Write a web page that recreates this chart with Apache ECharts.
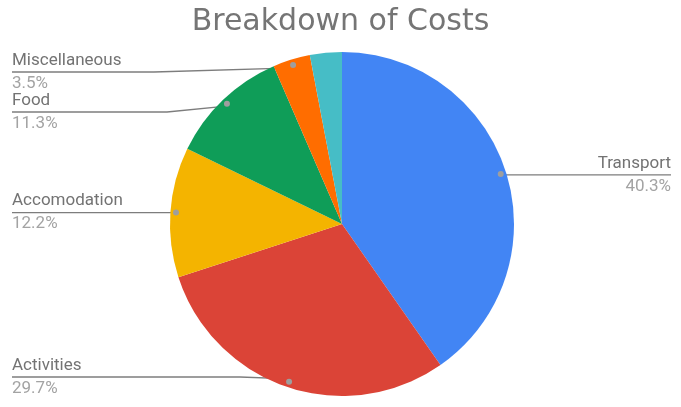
<!DOCTYPE html>
<html>
<head>
<meta charset="utf-8">
<script src="https://cdn.jsdelivr.net/npm/echarts@6/dist/echarts.min.js"></script>
<style>
html,body{margin:0;padding:0;background:#fff;}
#chart{width:681px;height:407px;}
</style>
</head>
<body>
<div id="chart"></div>
<script>
const titleText = 'Breakdown of Costs';
const categories = ['Transport', 'Activities', 'Accomodation', 'Food', 'Miscellaneous', 'Other'];
const values = [40.3, 29.7, 12.2, 11.3, 3.5, 3.0];
const colors = ['#4285f4', '#db4437', '#f4b400', '#0f9d58', '#ff6d00', '#46bdc6'];
const showLabel = [true, true, true, true, true, false];

// layout constants
const W = 681, H = 407;
const CX = 342, CY = 224, R = 172;
const DOT_FRAC = 0.95;
const LEFT_X = 12, RIGHT_X = 671;
const MIN_GAP = 40, MIN_LINE_Y = 72, MAX_LINE_Y = 377;

// label anchor positions (dot along each slice's mid-angle)
const total = values.reduce((a, b) => a + b, 0);
const anchors = [];
let acc = 0;
values.forEach((v, i) => {
  const mid = (acc + v / 2) / total * Math.PI * 2;
  acc += v;
  const dx = Math.sin(mid), dy = -Math.cos(mid);
  anchors.push({ x: CX + dx * R * DOT_FRAC, y: CY + dy * R * DOT_FRAC, right: dx >= 0 });
});
const lineY = anchors.map(a => Math.max(a.y, MIN_LINE_Y));
['left', 'right'].forEach(side => {
  const idx = anchors.map((a, i) => i).filter(i => showLabel[i] && (anchors[i].right === (side === 'right')));
  idx.sort((a, b) => anchors[a].y - anchors[b].y);
  for (let k = 1; k < idx.length; k++) {
    const prev = lineY[idx[k - 1]];
    if (lineY[idx[k]] < prev + MIN_GAP) lineY[idx[k]] = prev + MIN_GAP;
  }
  idx.forEach(i => { if (lineY[i] > MAX_LINE_Y) lineY[i] = MAX_LINE_Y; });
});

const pieData = categories.map((c, i) => ({
  name: c, value: values[i],
  itemStyle: { color: colors[i] },
  label: { show: showLabel[i] },
  labelLine: { show: showLabel[i] }
}));
const dotData = categories.map((c, i) => ({
  name: c, value: values[i],
  label: { show: showLabel[i] }
}));

const chart = echarts.init(document.getElementById('chart'), null, { renderer: 'canvas' });
chart.setOption({
  backgroundColor: '#fff',
  animation: false,
  title: {
    text: titleText, left: 'center', top: 2,
    textStyle: { fontFamily: 'DejaVu Sans', fontSize: 30, fontWeight: 'normal', color: '#757575' }
  },
  series: [
    {
      type: 'pie',
      center: [CX, CY],
      radius: [0, R],
      startAngle: 90,
      clockwise: true,
      percentPrecision: 1,
      avoidLabelOverlap: false,
      data: pieData,
      itemStyle: { borderWidth: 0 },
      emphasis: { disabled: true },
      label: {
        position: 'outside',
        formatter: '{n|{b}}\n{p|{d}%}',
        rich: {
          n: { fontFamily: 'Roboto', fontSize: 17, color: '#737373', lineHeight: 23 },
          p: { fontFamily: 'Roboto', fontSize: 17, color: '#a3a3a3', lineHeight: 23 }
        }
      },
      labelLine: { show: true, length: 10, length2: 10, lineStyle: { color: '#7d7d7d', width: 1.3 } },
      labelLayout: function (params) {
        const i = params.dataIndex;
        const a = anchors[i];
        const ly = lineY[i];
        if (a.right) {
          const bx = Math.abs(ly - a.y) > 1 ? a.x + 55 : a.x;
          return {
            x: RIGHT_X, y: ly, align: 'right', verticalAlign: 'middle',
            labelLinePoints: [[a.x, a.y], [bx, ly], [RIGHT_X, ly]]
          };
        }
        const off = Math.abs(ly - a.y) > 5 ? 62 : (a.y < CY ? 140 : 50);
        const bx = Math.abs(ly - a.y) > 1 ? a.x - off : a.x;
        return {
          x: LEFT_X, y: ly, align: 'left', verticalAlign: 'middle',
          labelLinePoints: [[a.x, a.y], [bx, ly], [LEFT_X, ly]]
        };
      }
    },
    {
      type: 'pie',
      center: [CX, CY],
      radius: [R * 0.9, R],
      startAngle: 90,
      clockwise: true,
      silent: true,
      z: 5,
      data: dotData,
      itemStyle: { color: 'rgba(0,0,0,0)', borderWidth: 0 },
      emphasis: { disabled: true },
      labelLine: { show: false },
      label: {
        position: 'inside',
        formatter: '{d| }',
        rich: { d: { width: 6, height: 6, borderRadius: 3, backgroundColor: '#9e9e9e' } }
      }
    }
  ]
});
</script>
</body>
</html>
